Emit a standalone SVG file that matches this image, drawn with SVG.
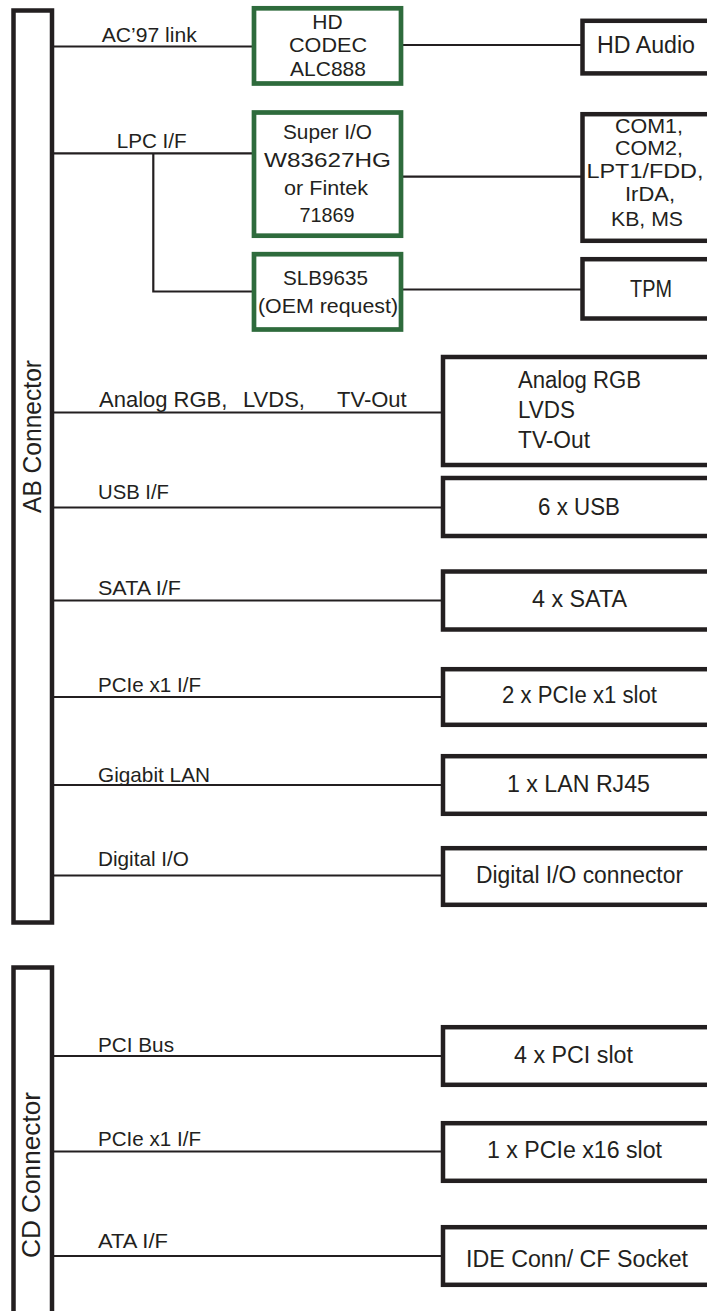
<svg xmlns="http://www.w3.org/2000/svg" width="707" height="1311" viewBox="0 0 707 1311">
<style>
text{font-family:"Liberation Sans",Arial,sans-serif;fill:#231f20}
.lbl{font-size:21px}
.bt{font-size:23px}
.gt{font-size:21px;text-anchor:middle}
.conn{fill:#fff;stroke:#231f20;stroke-width:4.5}
.chip{fill:#fff;stroke:#2e6b3c;stroke-width:4.7}
.box{fill:#fff;stroke:#231f20;stroke-width:4.5}
.ln{fill:none;stroke:#231f20;stroke-width:2.2}
.vl{font-size:25px;text-anchor:middle}
</style>
<rect width="707" height="1311" fill="#fff"/>

<g id="connectors">
<path class="ln" d="M52 46.5H254"/>
<path class="ln" d="M401 45H582"/>
<path class="ln" d="M52 153.3H254"/>
<path class="ln" d="M153.3 154V291.5H254"/>
<path class="ln" d="M401 176.7H582"/>
<path class="ln" d="M401 289.5H582"/>
<path class="ln" d="M52 412.5H443"/>
<path class="ln" d="M52 507.5H443"/>
<path class="ln" d="M52 600.5H443"/>
<path class="ln" d="M52 697H443"/>
<path class="ln" d="M52 785H443"/>
<path class="ln" d="M52 875.5H443"/>
<path class="ln" d="M52 1056H443"/>
<path class="ln" d="M52 1151.5H443"/>
<path class="ln" d="M52 1256H443"/>
</g>

<g id="labels">
<text class="lbl" x="101.7" y="41.7" textLength="95" lengthAdjust="spacingAndGlyphs">AC’97 link</text>
<text class="lbl" x="116.7" y="148.3" textLength="70" lengthAdjust="spacingAndGlyphs">LPC I/F</text>
<text class="lbl" style="font-size:22px" y="407"><tspan x="99">Analog RGB,</tspan><tspan x="243">LVDS,</tspan><tspan x="337">TV-Out</tspan></text>
<text class="lbl" x="98" y="499" textLength="71" lengthAdjust="spacingAndGlyphs">USB I/F</text>
<text class="lbl" x="98" y="595" textLength="83" lengthAdjust="spacingAndGlyphs">SATA I/F</text>
<text class="lbl" x="98" y="692" textLength="103" lengthAdjust="spacingAndGlyphs">PCIe x1 I/F</text>
<text class="lbl" x="98" y="782" textLength="112" lengthAdjust="spacingAndGlyphs">Gigabit LAN</text>
<text class="lbl" x="98" y="866" textLength="91" lengthAdjust="spacingAndGlyphs">Digital I/O</text>
<text class="lbl" x="98" y="1052" textLength="76" lengthAdjust="spacingAndGlyphs">PCI Bus</text>
<text class="lbl" x="98" y="1146" textLength="103" lengthAdjust="spacingAndGlyphs">PCIe x1 I/F</text>
<text class="lbl" x="98" y="1248" textLength="70" lengthAdjust="spacingAndGlyphs">ATA I/F</text>
</g>

<g id="ab-connector">
<rect class="conn" x="13.5" y="10.5" width="38.5" height="912"/>
<text class="vl" transform="translate(41 436.5) rotate(-90)" textLength="153" lengthAdjust="spacingAndGlyphs">AB Connector</text>
</g>

<g id="cd-connector">
<rect class="conn" x="13.5" y="967.5" width="38.5" height="360"/>
<text class="vl" transform="translate(40 1175) rotate(-90)" textLength="166" lengthAdjust="spacingAndGlyphs">CD Connector</text>
</g>

<g id="hd-codec">
<rect class="chip" x="254" y="8.3" width="147" height="75.2"/>
<text class="gt" x="327.5" y="29">HD</text>
<text class="gt" x="328" y="52" textLength="78" lengthAdjust="spacingAndGlyphs">CODEC</text>
<text class="gt" x="328" y="76">ALC888</text>
</g>

<g id="super-io">
<rect class="chip" x="254" y="112.5" width="147" height="123.2"/>
<text class="gt" x="327.5" y="138.5" textLength="89" lengthAdjust="spacingAndGlyphs">Super I/O</text>
<text class="gt" x="327.5" y="166.5" textLength="127" lengthAdjust="spacingAndGlyphs">W83627HG</text>
<text class="gt" x="326" y="194.5" textLength="84" lengthAdjust="spacingAndGlyphs">or Fintek</text>
<text class="gt" x="327" y="221.7" textLength="55" lengthAdjust="spacingAndGlyphs">71869</text>
</g>

<g id="slb9635">
<rect class="chip" x="254" y="254.2" width="147" height="75.3"/>
<text class="gt" x="325.5" y="285" textLength="85" lengthAdjust="spacingAndGlyphs">SLB9635</text>
<text class="gt" x="328" y="313" textLength="140" lengthAdjust="spacingAndGlyphs">(OEM request)</text>
</g>

<g id="hd-audio">
<rect class="box" x="582.5" y="20.8" width="200" height="52.6"/>
<text class="bt" x="597" y="53.3" textLength="98" lengthAdjust="spacingAndGlyphs">HD Audio</text>
</g>

<g id="com-ports">
<rect class="box" x="582.5" y="114.2" width="200" height="126.6"/>
<text class="gt" x="649" y="133" textLength="68" lengthAdjust="spacingAndGlyphs">COM1,</text>
<text class="gt" x="649" y="155" textLength="68" lengthAdjust="spacingAndGlyphs">COM2,</text>
<text class="gt" x="645" y="178" textLength="117" lengthAdjust="spacingAndGlyphs">LPT1/FDD,</text>
<text class="gt" x="650" y="201" textLength="50" lengthAdjust="spacingAndGlyphs">IrDA,</text>
<text class="gt" x="647" y="226" textLength="72" lengthAdjust="spacingAndGlyphs">KB, MS</text>
</g>

<g id="tpm">
<rect class="box" x="582.5" y="259.2" width="200" height="59.3"/>
<text class="bt" x="630" y="296.7" textLength="42" lengthAdjust="spacingAndGlyphs">TPM</text>
</g>

<g id="display">
<rect class="box" x="443" y="357" width="300" height="108"/>
<text class="bt" x="518" y="388" textLength="123" lengthAdjust="spacingAndGlyphs">Analog RGB</text>
<text class="bt" x="518" y="418" textLength="57" lengthAdjust="spacingAndGlyphs">LVDS</text>
<text class="bt" x="518" y="448" textLength="72" lengthAdjust="spacingAndGlyphs">TV-Out</text>
</g>

<g id="usb">
<rect class="box" x="443" y="478" width="300" height="58"/>
<text class="bt" x="538" y="515" textLength="82" lengthAdjust="spacingAndGlyphs">6 x USB</text>
</g>

<g id="sata">
<rect class="box" x="443" y="571.5" width="300" height="58"/>
<text class="bt" x="532" y="607" textLength="95" lengthAdjust="spacingAndGlyphs">4 x SATA</text>
</g>

<g id="pcie-x1">
<rect class="box" x="443" y="669.2" width="300" height="55.6"/>
<text class="bt" x="502" y="703" textLength="155" lengthAdjust="spacingAndGlyphs">2 x PCIe x1 slot</text>
</g>

<g id="lan">
<rect class="box" x="443" y="756.2" width="300" height="57.6"/>
<text class="bt" x="507" y="792" textLength="143" lengthAdjust="spacingAndGlyphs">1 x LAN RJ45</text>
</g>

<g id="dio">
<rect class="box" x="443" y="848.2" width="300" height="56.6"/>
<text class="bt" x="476" y="883" textLength="207" lengthAdjust="spacingAndGlyphs">Digital I/O connector</text>
</g>

<g id="pci">
<rect class="box" x="443" y="1027.2" width="300" height="57.6"/>
<text class="bt" x="514" y="1063" textLength="119" lengthAdjust="spacingAndGlyphs">4 x PCI slot</text>
</g>

<g id="pcie-x16">
<rect class="box" x="443" y="1123.2" width="300" height="57.6"/>
<text class="bt" x="487" y="1158" textLength="175" lengthAdjust="spacingAndGlyphs">1 x PCIe x16 slot</text>
</g>

<g id="ide">
<rect class="box" x="443" y="1227.2" width="300" height="57.6"/>
<text class="bt" x="466" y="1267" textLength="222" lengthAdjust="spacingAndGlyphs">IDE Conn/ CF Socket</text>
</g>
</svg>
